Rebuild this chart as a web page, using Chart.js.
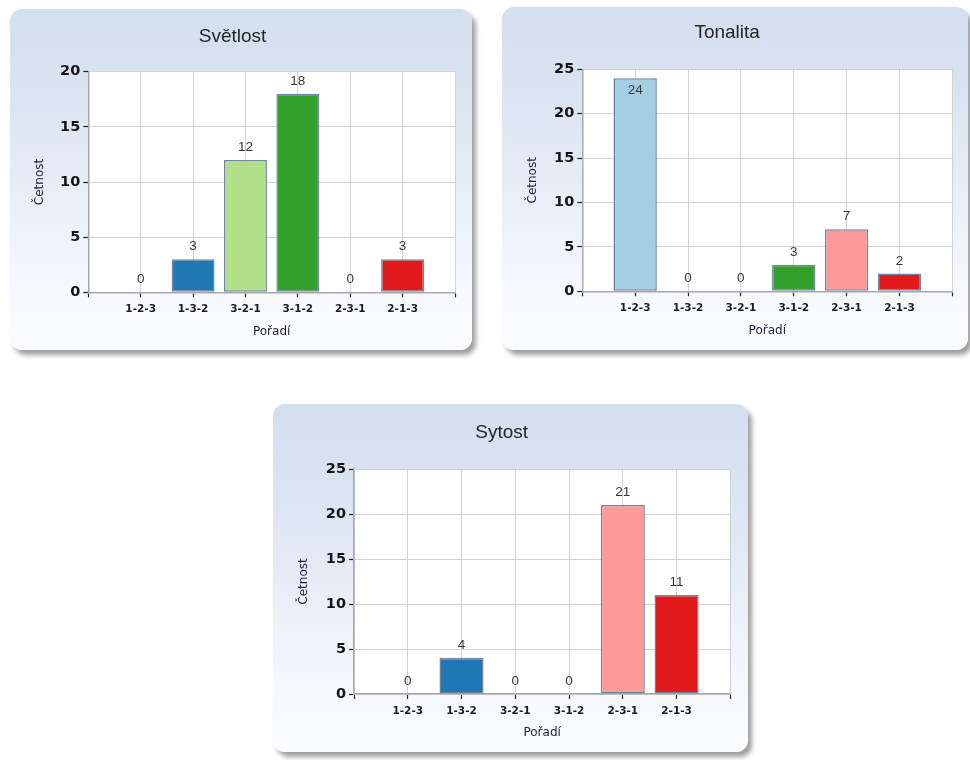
<!DOCTYPE html>
<html>
<head>
<meta charset="utf-8">
<title>Světlost, Tonalita, Sytost</title>
<script src="https://cdn.jsdelivr.net/npm/chart.js@4.4.1/dist/chart.umd.min.js"></script>
<style>
  html, body { margin: 0; padding: 0; background: #ffffff; }
  body { width: 970px; height: 760px; position: relative; overflow: hidden; }
  .card {
    position: absolute;
    border-radius: 12px;
    background: linear-gradient(to bottom, #d3deef 0%, #dce5f2 30%, #eef2f9 65%, #f8fafd 88%, #fbfcfe 100%);
    box-shadow: 4px 5px 5px rgba(0, 0, 0, 0.38);
  }
  .card canvas { position: absolute; left: 0; top: 0; }
</style>
</head>
<body>
<div class="card" id="card-svetlost"><canvas id="svetlost"></canvas></div>
<div class="card" id="card-tonalita"><canvas id="tonalita"></canvas></div>
<div class="card" id="card-sytost"><canvas id="sytost"></canvas></div>

<script>
// Orderings on the x axis and their bar colours
const categories = ['1-2-3', '1-3-2', '3-2-1', '3-1-2', '2-3-1', '2-1-3'];
const categoryColors = ['#a6cee3', '#1f78b4', '#b2df8a', '#33a02c', '#fb9a99', '#e31a1c'];

// Counts per ordering
const svetlostValues = [0, 3, 12, 18, 0, 3];
const tonalitaValues = [24, 0, 0, 3, 7, 2];
const sytostValues = [0, 4, 0, 0, 21, 11];

// Y axis tick values
const svetlostTicks = [0, 5, 10, 15, 20];
const tonalitaTicks = [0, 5, 10, 15, 20, 25];
const sytostTicks = [0, 5, 10, 15, 20, 25];

const xTitle = 'Pořadí';
const yTitle = 'Četnost';

Chart.defaults.font.family = '"DejaVu Sans", sans-serif';

// Card geometry and plot-area placement inside each card
const panels = [
  { id: 'svetlost', title: 'Světlost', values: svetlostValues, ticks: svetlostTicks,
    card: { x: 10, y: 9, w: 462, h: 341 },
    plotLeft: 78.3, padRight: 17, titleCenter: 27.7, plotTop: 62.7, xAxisH: 57.7,
    yTitleX: 29.5, xTitleOff: 18 },
  { id: 'tonalita', title: 'Tonalita', values: tonalitaValues, ticks: tonalitaTicks,
    card: { x: 502, y: 7, w: 466, h: 343 },
    plotLeft: 80.3, padRight: 15.7, titleCenter: 26, plotTop: 62.3, xAxisH: 58.7,
    yTitleX: 31, xTitleOff: 19 },
  { id: 'sytost', title: 'Sytost', values: sytostValues, ticks: sytostTicks,
    card: { x: 273, y: 404, w: 475, h: 348 },
    plotLeft: 81, padRight: 17.7, titleCenter: 28.7, plotTop: 65, xAxisH: 58,
    yTitleX: 31, xTitleOff: 19 }
];

// White plot background
const plotBackground = {
  id: 'plotBackground',
  beforeDraw(chart) {
    const { ctx, chartArea: a } = chart;
    ctx.save();
    ctx.fillStyle = '#ffffff';
    ctx.fillRect(a.left, a.top, a.right - a.left, a.bottom - a.top);
    ctx.restore();
  }
};

// Count written above each bar (inside the bar when there is no room above)
const valueLabels = {
  id: 'valueLabels',
  afterDatasetsDraw(chart) {
    const { ctx, chartArea } = chart;
    chart.data.datasets.forEach((ds, di) => {
      const meta = chart.getDatasetMeta(di);
      meta.data.forEach((bar, i) => {
        const v = ds.data[i];
        if (v === null || v === undefined) return;
        ctx.save();
        ctx.font = '13.5px "Liberation Sans", sans-serif';
        ctx.fillStyle = '#363636';
        ctx.textAlign = 'center';
        ctx.textBaseline = 'alphabetic';
        let y = bar.y - 9;
        if (y - 10 < chartArea.top) y = bar.y + 15.5;
        ctx.fillText(String(v), bar.x, y);
        ctx.restore();
      });
    });
  }
};

panels.forEach(p => {
  const card = document.getElementById('card-' + p.id);
  card.style.left = p.card.x + 'px';
  card.style.top = p.card.y + 'px';
  card.style.width = p.card.w + 'px';
  card.style.height = p.card.h + 'px';
  const canvas = document.getElementById(p.id);
  canvas.width = p.card.w;
  canvas.height = p.card.h;

  // empty slot on each side of the six orderings
  const labels = [''].concat(categories, ['']);
  const data = [null].concat(p.values, [null]);
  const colors = ['rgba(0,0,0,0)'].concat(categoryColors, ['rgba(0,0,0,0)']);

  const titleLH = 19 * 1.2;
  const axisTitleLH = 12 * 1.2;

  new Chart(canvas, {
    type: 'bar',
    data: {
      labels: labels,
      datasets: [{
        data: data,
        backgroundColor: colors,
        borderColor: '#7283a3',
        borderWidth: 1.5,
        borderSkipped: false,
        categoryPercentage: 1,
        barPercentage: 0.82
      }]
    },
    options: {
      responsive: false,
      animation: false,
      devicePixelRatio: 1,
      layout: { padding: { left: 0, right: p.padRight, top: 0, bottom: 0 } },
      plugins: {
        legend: { display: false },
        tooltip: { enabled: false },
        title: {
          display: true,
          text: p.title,
          color: '#262626',
          font: { family: '"Liberation Sans", sans-serif', size: 19, weight: 'normal', lineHeight: 1.2 },
          padding: { top: p.titleCenter - titleLH / 2, bottom: p.plotTop - p.titleCenter - titleLH / 2 }
        }
      },
      scales: {
        x: {
          type: 'category',
          offset: false,
          grid: { offset: false, color: '#d2d2d2', lineWidth: 1, drawTicks: true, tickLength: 5, tickColor: '#222222', tickWidth: 1.2 },
          border: { color: '#a8a8a8', width: 1.5 },
          ticks: {
            autoSkip: false, maxRotation: 0, minRotation: 0, padding: 6,
            color: '#1c1c1c',
            font: { size: 10.5, weight: 'bold' }
          },
          title: {
            display: true, text: xTitle, color: '#1e1e3a',
            font: { size: 12, weight: 'normal', lineHeight: 1.2 },
            padding: { top: 0, bottom: p.xTitleOff - axisTitleLH / 2 }
          },
          afterFit(scale) { scale.height = p.xAxisH; }
        },
        y: {
          min: p.ticks[0],
          max: p.ticks[p.ticks.length - 1],
          afterBuildTicks(scale) { scale.ticks = p.ticks.map(v => ({ value: v })); },
          grid: { color: '#d2d2d2', lineWidth: 1, drawTicks: true, tickLength: 5, tickColor: '#222222', tickWidth: 1.2 },
          border: { color: '#a8a8a8', width: 1.5 },
          ticks: {
            padding: 3,
            color: '#141414',
            font: { size: 14.5, weight: 'bold' }
          },
          title: {
            display: true, text: yTitle, color: '#1e1e3a',
            font: { size: 12, weight: 'normal', lineHeight: 1.2 },
            padding: { top: p.yTitleX - axisTitleLH / 2, bottom: 0 }
          },
          afterFit(scale) { scale.width = p.plotLeft; }
        }
      }
    },
    plugins: [plotBackground, valueLabels]
  });
});
</script>
</body>
</html>
